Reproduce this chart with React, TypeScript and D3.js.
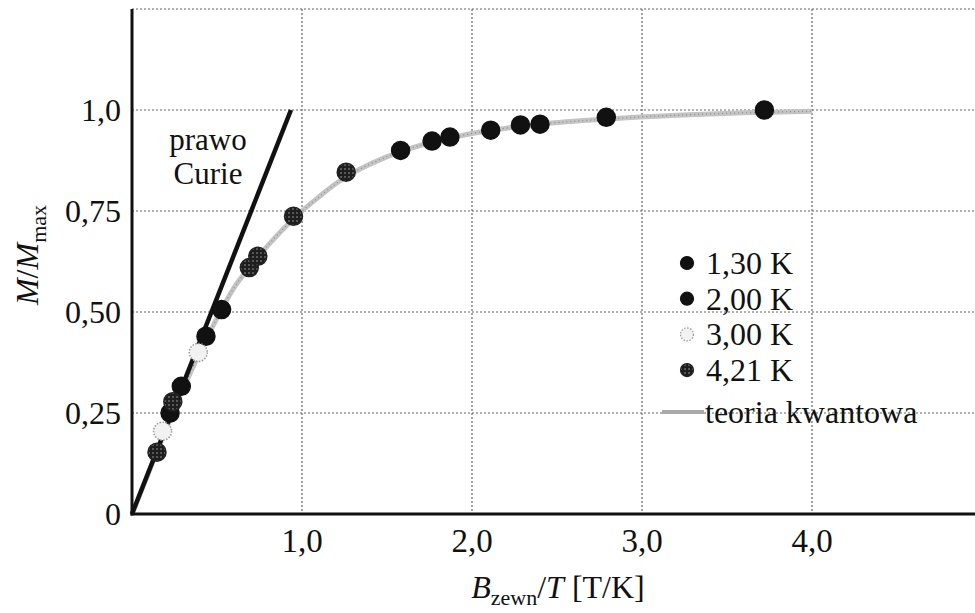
import React, { useRef, useEffect } from "react";
import * as d3 from "d3";

// B/T [T/K] and M/Mmax
const k130x = [1.58, 1.765, 1.87, 2.11, 2.285, 2.4, 2.79, 3.72];
const k130y = [0.9, 0.923, 0.933, 0.95, 0.963, 0.965, 0.982, 1.0];
const k200x = [0.224, 0.29, 0.435, 0.527];
const k200y = [0.25, 0.316, 0.44, 0.506];
const k300x = [0.18, 0.39];
const k300y = [0.205, 0.4];
const k421x = [0.147, 0.24, 0.69, 0.74, 0.95, 1.26];
const k421y = [0.153, 0.278, 0.61, 0.638, 0.737, 0.846];

const theoryX = [0, 0.1, 0.2, 0.3, 0.4, 0.5, 0.6, 0.7, 0.8, 0.9, 1.0, 1.1, 1.2, 1.3, 1.4, 1.6, 1.8, 2.0, 2.2, 2.4, 2.8, 3.2, 3.6, 4.0];
const theoryY = [0, 0.105, 0.21, 0.31, 0.4, 0.485, 0.56, 0.615, 0.665, 0.71, 0.75, 0.785, 0.818, 0.845, 0.866, 0.9, 0.924, 0.942, 0.955, 0.965, 0.978, 0.987, 0.993, 0.997];

const curieX = [0, 0.935];
const curieY = [0, 1.0];

const xTicks = [1, 2, 3, 4];
const yTicks = [0, 0.25, 0.5, 0.75, 1.0];
const yTickLabels = ["0", "0,25", "0,50", "0,75", "1,0"];
const legendLabels = ["1,30 K", "2,00 K", "3,00 K", "4,21 K"];

const FONT = "'Liberation Serif', 'Times New Roman', serif";

const App = () => {
  const ref = useRef<SVGSVGElement>(null);

  useEffect(() => {
    const svg = d3.select(ref.current);
    svg.selectAll("*").remove();

    const x = d3.scaleLinear().domain([0, 5]).range([132, 982]);
    const y = d3.scaleLinear().domain([0, 1.25]).range([514, 9]);

    const defs = svg.append("defs");
    const pat = defs
      .append("pattern")
      .attr("id", "speckle")
      .attr("width", 4)
      .attr("height", 4)
      .attr("patternUnits", "userSpaceOnUse");
    pat.append("rect").attr("width", 4).attr("height", 4).attr("fill", "#1e1e1e");
    pat.append("circle").attr("cx", 1).attr("cy", 1).attr("r", 0.7).attr("fill", "#bbb");

    // grid
    const grid = svg.append("g").attr("stroke", "#666").attr("stroke-width", 1.2).attr("stroke-dasharray", "2,2");
    xTicks.forEach((t) => {
      grid.append("line").attr("x1", x(t)).attr("x2", x(t)).attr("y1", y(1.25)).attr("y2", y(0));
    });
    [0.25, 0.5, 0.75, 1.0, 1.25].forEach((t) => {
      grid.append("line").attr("x1", x(0)).attr("x2", 975).attr("y1", y(t)).attr("y2", y(t));
    });

    // theory curve
    const line = d3
      .line<number>()
      .x((d, i) => x(theoryX[i]))
      .y((d) => y(d))
      .curve(d3.curveMonotoneX);
    svg
      .append("path")
      .attr("d", line(theoryY))
      .attr("fill", "none")
      .attr("stroke", "#c4c4c4")
      .attr("stroke-width", 5);
    svg
      .append("path")
      .attr("d", line(theoryY))
      .attr("fill", "none")
      .attr("stroke", "#8a8a8a")
      .attr("stroke-width", 1.2)
      .attr("stroke-dasharray", "1,3");

    // Curie law
    svg
      .append("line")
      .attr("x1", x(curieX[0]))
      .attr("y1", y(curieY[0]))
      .attr("x2", x(curieX[1]))
      .attr("y2", y(curieY[1]))
      .attr("stroke", "#111")
      .attr("stroke-width", 4.5);

    const styles = [
      { fill: "#111", stroke: "#111", dash: null },
      { fill: "#111", stroke: "#111", dash: null },
      { fill: "#f2f2f2", stroke: "#999", dash: "1.5,1.5" },
      { fill: "url(#speckle)", stroke: "#222", dash: null },
    ];
    const series = [
      [k130x, k130y],
      [k200x, k200y],
      [k300x, k300y],
      [k421x, k421y],
    ];
    series.forEach(([xs, ys], si) => {
      const st = styles[si];
      svg
        .append("g")
        .selectAll("circle")
        .data(ys)
        .enter()
        .append("circle")
        .attr("cx", (d, i) => x(xs[i]))
        .attr("cy", (d) => y(d))
        .attr("r", 9)
        .attr("fill", st.fill)
        .attr("stroke", st.stroke)
        .attr("stroke-width", 1.5)
        .attr("stroke-dasharray", st.dash);
    });

    // axes
    svg.append("line").attr("x1", x(0)).attr("x2", x(0)).attr("y1", y(1.25)).attr("y2", y(0) + 1.5)
      .attr("stroke", "#111").attr("stroke-width", 3);
    svg.append("line").attr("x1", x(0) - 1.5).attr("x2", 975).attr("y1", y(0)).attr("y2", y(0))
      .attr("stroke", "#111").attr("stroke-width", 3);

    const txt = svg.append("g").attr("font-family", FONT).attr("fill", "#111");

    xTicks.forEach((t) => {
      txt.append("text").attr("x", x(t)).attr("y", 552).attr("text-anchor", "middle")
        .attr("font-size", 33).text(d3.format(".1f")(t).replace(".", ","));
    });
    yTicks.forEach((t, i) => {
      txt.append("text").attr("x", 121).attr("y", y(t) + 11).attr("text-anchor", "end")
        .attr("font-size", 32).text(yTickLabels[i]);
    });

    // prawo Curie
    txt.append("text").attr("x", 208).attr("y", 150).attr("text-anchor", "middle").attr("font-size", 31).text("prawo");
    txt.append("text").attr("x", 208).attr("y", 184).attr("text-anchor", "middle").attr("font-size", 31).text("Curie");

    // legend
    const lg = txt.append("g");
    legendLabels.forEach((lab, i) => {
      const cy = 263 + i * 35.7;
      const st = styles[i];
      lg.append("circle").attr("cx", 687).attr("cy", cy).attr("r", 6.5)
        .attr("fill", st.fill).attr("stroke", st.stroke).attr("stroke-width", 1.2)
        .attr("stroke-dasharray", st.dash);
      lg.append("text").attr("x", 706).attr("y", cy + 11).attr("font-size", 32).text(lab);
    });
    lg.append("line").attr("x1", 662).attr("x2", 704).attr("y1", 412).attr("y2", 412)
      .attr("stroke", "#aaa").attr("stroke-width", 4);
    lg.append("text").attr("x", 705).attr("y", 423).attr("font-size", 32).text("teoria kwantowa");

    // axis titles
    const xl = txt.append("text").attr("x", 558).attr("y", 598).attr("text-anchor", "middle").attr("font-size", 32);
    xl.append("tspan").attr("font-style", "italic").text("B");
    xl.append("tspan").attr("font-size", 22).attr("dy", 7).text("zewn");
    xl.append("tspan").attr("dy", -7).text("/");
    xl.append("tspan").attr("font-style", "italic").text("T");
    xl.append("tspan").text(" [T/K]");

    const yl = txt.append("text").attr("transform", "translate(38,255) rotate(-90)")
      .attr("text-anchor", "middle").attr("font-size", 32);
    yl.append("tspan").attr("font-style", "italic").text("M");
    yl.append("tspan").text("/");
    yl.append("tspan").attr("font-style", "italic").text("M");
    yl.append("tspan").attr("font-size", 22).attr("dy", 8).text("max");
  }, []);

  return (
    <svg
      ref={ref}
      width={975}
      height={613}
      style={{ position: "absolute", left: 0, top: 0, background: "#fff" }}
    ></svg>
  );
};

export default App;
